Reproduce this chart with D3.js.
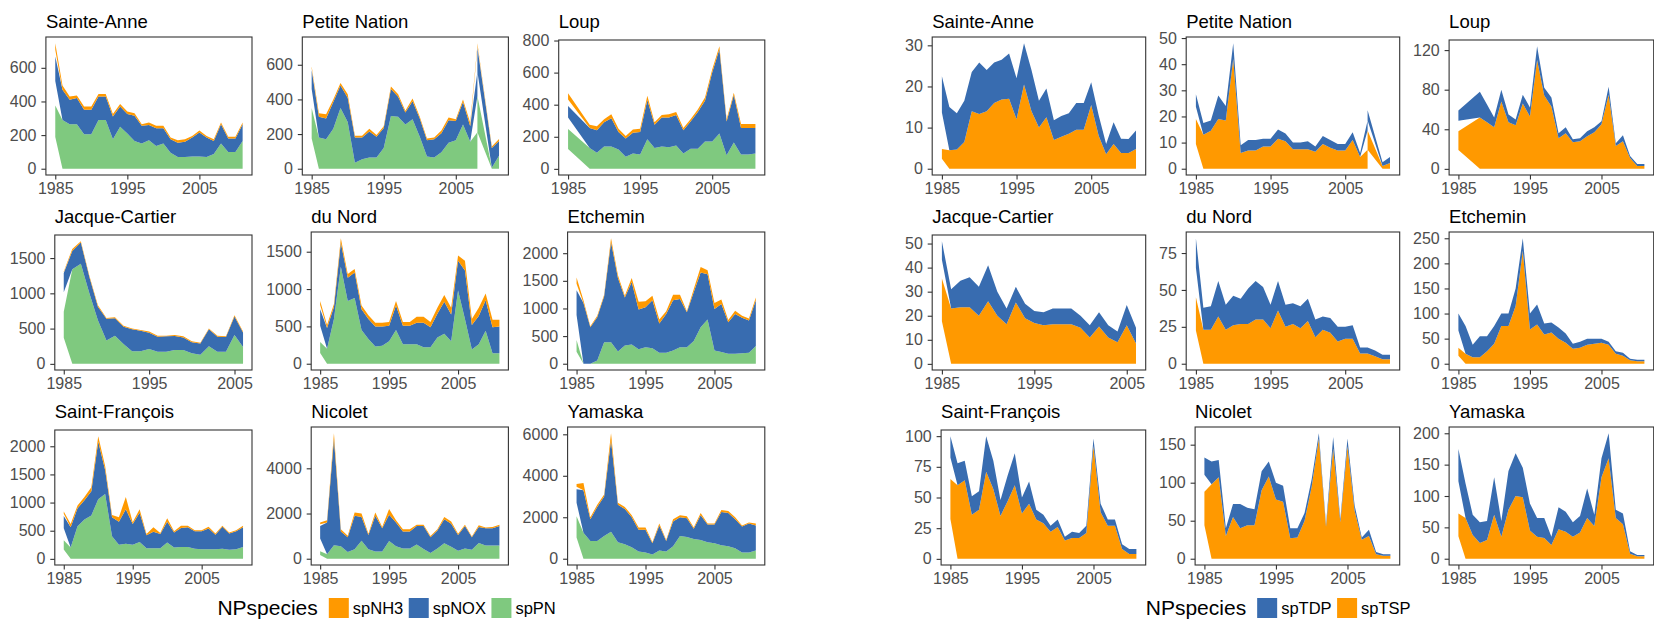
<!DOCTYPE html>
<html>
<head>
<meta charset="utf-8">
<script src="https://cdn.jsdelivr.net/npm/d3@7"></script>
<style>
  html, body { margin: 0; padding: 0; background: #fff; }
  svg { display: block; }
</style>
</head>
<body>
<svg id="chart" width="1654" height="621"></svg>
<script>
// ---------------------------------------------------------------
// Data: yearly loads per river; the first year (and 2008 for
// Petite Nation) appears twice in the source table.
// ---------------------------------------------------------------
const rivers = ["Sainte-Anne", "Petite Nation", "Loup", "Jacque-Cartier", "du Nord",
                "Etchemin", "Saint-François", "Nicolet", "Yamaska"];
const speciesN = ["spNH3", "spNOX", "spPN"];
const speciesP = ["spTDP", "spTSP"];
const xTicks = [1985, 1995, 2005];

const yearsFull = [1985, 1985, 1986, 1987, 1988, 1989, 1990, 1991, 1992, 1993, 1994, 1995, 1996, 1997,
                   1998, 1999, 2000, 2001, 2002, 2003, 2004, 2005, 2006, 2007, 2008, 2009, 2010, 2011];
const yearsPetiteNation = [1985, 1985, 1986, 1987, 1988, 1989, 1990, 1991, 1992, 1993, 1994, 1995, 1996,
                   1997, 1998, 1999, 2000, 2001, 2002, 2003, 2004, 2005, 2006, 2007, 2008, 2008, 2010, 2011];
const yearsLoup = [1985, 1985, 1988, 1989, 1990, 1991, 1992, 1993, 1994, 1995, 1996, 1997, 1998,
                   1999, 2000, 2001, 2002, 2003, 2004, 2005, 2006, 2007, 2008, 2009, 2010, 2011];
const yearsJacqueCartier = [1985, 1985, 1986, 1987, 1988, 1989, 1990, 1991, 1992, 1993, 1994, 1995,
                   1996, 1997, 1998, 1999, 2000, 2001, 2002, 2003, 2004, 2005, 2006];

// Nitrogen species
const pn_SainteAnne  = [188,188, 290,265,265,205,205,290,290,175,250,210,165,150,170,135,150,95,70,70,72,72,70,88,150,100,100,165];
const nox_SainteAnne = [146,146, 180,145,155,145,145,140,140,135,120,115,150,105,90,105,90,80,85,90,113,143,115,77,115,80,80,100];
const nh3_SainteAnne = [39,39, 25,20,15,20,20,15,15,15,15,15,15,10,15,15,15,10,15,15,10,13,10,10,10,10,10,10];

const pn_PetiteNation  = [175,175, 180,170,230,350,270,35,55,65,65,120,305,300,255,285,185,70,65,95,150,165,255,155, 210,210, 5,75];
const nox_PetiteNation = [110,110, 120,120,155,130,140,145,125,150,120,115,155,115,70,105,105,95,105,110,130,110,130,90, 140,140, 115,85];
const nh3_PetiteNation = [10,10, 20,25,15,15,20,10,10,15,10,10,15,15,10,15,10,10,10,15,15,10,15,20, 12,12, 8,12];

const pn_Loup  = [124,124, 130,100,140,140,120,75,95,90,185,130,140,135,145,95,125,125,170,170,220,85,165,90,90,95];
const nox_Loup = [72,72, 125,140,150,175,110,115,130,140,245,145,180,185,190,145,170,230,255,430,525,210,295,165,165,160];
const nh3_Loup = [40,40, 20,25,20,25,20,15,20,20,25,15,15,20,20,15,15,15,20,20,20,15,15,25,25,25];

const pn_JacqueCartier  = [370,370, 1340,1420,1000,620,330,400,280,180,180,210,170,170,195,195,150,130,250,170,170,410,240];
const nox_JacqueCartier = [275,275, 260,300,230,190,310,245,245,310,290,230,215,220,200,180,155,160,240,215,210,260,205];
const nh3_JacqueCartier = [10,10, 30,20,20,20,10,15,15,10,10,20,15,10,15,15,15,10,10,15,10,20,15];

const pn_duNord  = [145,145, 200,600,1300,840,880,450,330,230,240,300,450,260,260,260,220,220,350,400,300,980,600,190,260,440,140,140];
const nox_duNord = [220,220, 280,160,320,310,340,280,270,270,260,210,330,250,250,290,330,270,320,430,360,400,650,330,380,410,350,360];
const nh3_duNord = [55,55, 40,40,60,50,50,50,50,50,50,50,60,50,50,80,80,70,80,90,90,70,130,80,110,90,100,90];

const pn_Etchemin  = [215,215, 0,0,60,390,390,220,330,350,260,300,280,200,200,240,300,300,410,660,800,240,210,180,180,190,200,320];
const nox_Etchemin = [450,450, 1100,660,780,830,1810,1330,870,1130,720,720,870,530,700,910,870,630,890,990,820,750,870,570,720,640,580,830];
const nh3_Etchemin = [115,115, 50,20,30,30,70,50,30,70,140,110,80,70,50,100,80,20,50,100,70,110,80,40,60,40,40,50];

const pn_SaintFrancois  = [165,165, 200,580,700,770,1060,1150,400,250,270,250,300,190,190,190,290,200,210,210,180,170,170,170,180,160,170,210];
const nox_SaintFrancois = [215,215, 360,320,340,430,1020,430,340,410,610,370,520,230,290,250,370,270,340,350,310,320,370,260,390,290,320,350];
const nh3_SaintFrancois = [40,40, 60,50,60,70,100,70,40,80,220,30,60,20,80,20,60,20,40,30,20,20,30,20,20,20,20,30];

const pn_Nicolet  = [165,165, 200,600,550,300,420,800,420,320,320,780,550,450,450,630,430,250,450,680,530,350,450,400,700,580,580,580];
const nox_Nicolet = [560,560, 1400,4700,650,650,1480,1050,630,1580,1030,1170,1050,750,750,820,1020,700,800,1070,1020,700,1000,550,700,770,770,870];
const nh3_Nicolet = [75,75, 100,250,100,70,150,150,50,150,50,250,100,100,100,50,50,50,50,100,100,50,50,30,80,30,50,50];

const pn_Yamaska  = [1025,1025, 1250,850,850,1100,1300,800,700,550,350,300,200,400,350,600,1100,1050,950,900,800,750,650,600,500,300,300,400];
const nox_Yamaska = [650,650, 2050,1050,1650,1900,4400,1800,1700,1450,1050,1100,550,1200,500,1200,900,900,500,1200,850,900,1600,1600,1400,1250,1400,1200];
const nh3_Yamaska = [125,125, 350,100,100,100,350,100,100,100,100,100,50,100,50,100,100,100,50,100,50,50,100,100,100,50,50,100];

// Phosphorus species
const tsp_SainteAnne = [2.4,2.4, 4.5,4.7,6.5,14,13.3,14,16,16.8,17,12,20.5,14,10,12.5,7,7.8,8.5,9.5,9.5,15.5,8,3.5,6,3.8,3.8,4.8];
const tdp_SainteAnne = [8.85,8.85, 10.5,8.8,10,9.5,12.5,10,9.8,9.7,11,10,10,10,6.5,7,4.8,5,5,6.5,6.5,5.5,5,2.5,5.3,3.5,3.4,4.5];

const tsp_PetiteNation = [9.5,9.5, 13,14.5,19,18.5,42,6,7,7,8.5,8.5,11.5,10.5,7.5,7.5,7.5,6.5,9.5,8,7,7,11,4.5, 7.3,7.3, 1,2.2];
const tdp_PetiteNation = [4.75,4.75, 4.5,4,9,5.5,6,3,4,4,3,3,3.5,3,2.5,2.5,3,2,3,3,2.5,2.5,3,1.5, 3.9,3.9, 1.5,2.3];

const tsp_Loup = [19,19, 52,47,42,68,47,44,66,53,110,74,63,31,36,27,28,33,37,45,75,23,28,11,3,3];
const tdp_Loup = [10.5,10.5, 26,18,10,12,8,6,9,9,14,8,9,5,6,3,3,5,5,3,8,3,6,2,2,2];

const tsp_JacqueCartier = [17.75,17.75, 23,23.5,23.5,20,26,20,16.5,25.5,19,17,16,16.5,16.5,16.5,15,11,15.5,11,9,16,8.5];
const tdp_JacqueCartier = [7.75,7.75, 8,11,12.5,12,15,10,6.5,6.5,6,5,5.5,6.5,6.5,6.5,5,5,6,5,4.5,8.5,6.5];

const tsp_duNord = [22.5,22.5, 23,23,32,23,26,27,27,30,30,24,36,25,27,24,29,18,23,21,15,17,17,7,7,5,3,3];
const tdp_duNord = [20,20, 15,16,24,17,20,17,24,26,22,16,20,15,14,15,15,12,9,10,10,8,9,4,4,4,3,3];

const tsp_Etchemin = [16,16, 20,13,13,25,40,75,75,115,225,68,78,58,62,50,42,30,32,38,40,42,38,20,16,7,5,5];
const tdp_Etchemin = [34,34, 55,25,42,30,35,25,25,35,25,32,40,22,20,22,18,10,12,12,10,8,6,5,6,3,3,3];

const tsp_SaintFrancois = [32.5,32.5, 60,64,36,40,71,57,35,47,60,37,45,32,29,22,26,15,17,17,21,92,38,27,27,8,4,4];
const tdp_SaintFrancois = [17.5,17.5, 18,16,15,15,29,23,13,21,26,13,18,8,7,5,6,3,5,4,6,6,7,5,5,4,4,4];

const tsp_Nicolet = [44,44, 98,107,30,55,40,44,44,90,108,78,75,27,28,50,95,158,42,145,48,148,63,25,30,6,4,4];
const tdp_Nicolet = [22.5,22.5, 30,23,10,17,32,23,21,25,20,22,21,13,12,10,10,7,3,15,4,10,7,3,8,3,2,2];

const tsp_Yamaska = [36,36, 65,38,25,30,70,35,78,100,98,45,35,33,22,47,43,35,42,65,52,130,160,65,55,8,4,4];
const tdp_Yamaska = [51.5,51.5, 55,32,33,30,60,25,62,68,47,43,30,32,13,35,32,23,26,47,18,30,40,13,17,4,2,2];

// y-axis tick labels, one list per river
const yTicksN = [[0,200,400,600], [0,200,400,600], [0,200,400,600,800],
                 [0,500,1000,1500], [0,500,1000,1500], [0,500,1000,1500,2000],
                 [0,500,1000,1500,2000], [0,2000,4000], [0,2000,4000,6000]];
const yTicksP = [[0,10,20,30], [0,10,20,30,40,50], [0,40,80,120],
                 [0,10,20,30,40,50], [0,25,50,75], [0,50,100,150,200,250],
                 [0,25,50,75,100], [0,50,100,150], [0,50,100,150,200]];

const yearsByRiver = [yearsFull, yearsPetiteNation, yearsLoup, yearsJacqueCartier, yearsFull,
                      yearsFull, yearsFull, yearsFull, yearsFull];

const panelsN = [
  [nh3_SainteAnne, nox_SainteAnne, pn_SainteAnne],
  [nh3_PetiteNation, nox_PetiteNation, pn_PetiteNation],
  [nh3_Loup, nox_Loup, pn_Loup],
  [nh3_JacqueCartier, nox_JacqueCartier, pn_JacqueCartier],
  [nh3_duNord, nox_duNord, pn_duNord],
  [nh3_Etchemin, nox_Etchemin, pn_Etchemin],
  [nh3_SaintFrancois, nox_SaintFrancois, pn_SaintFrancois],
  [nh3_Nicolet, nox_Nicolet, pn_Nicolet],
  [nh3_Yamaska, nox_Yamaska, pn_Yamaska]
].map((s, i) => ({ name: rivers[i], years: yearsByRiver[i], ticks: yTicksN[i],
                   spNH3: s[0], spNOX: s[1], spPN: s[2] }));

const panelsP = [
  [tdp_SainteAnne, tsp_SainteAnne],
  [tdp_PetiteNation, tsp_PetiteNation],
  [tdp_Loup, tsp_Loup],
  [tdp_JacqueCartier, tsp_JacqueCartier],
  [tdp_duNord, tsp_duNord],
  [tdp_Etchemin, tsp_Etchemin],
  [tdp_SaintFrancois, tsp_SaintFrancois],
  [tdp_Nicolet, tsp_Nicolet],
  [tdp_Yamaska, tsp_Yamaska]
].map((s, i) => ({ name: rivers[i], years: yearsByRiver[i], ticks: yTicksP[i],
                   spTDP: s[0], spTSP: s[1] }));

// ---------------------------------------------------------------
// Styling and layout
// ---------------------------------------------------------------
const FONT = "'Liberation Sans', Arial, Helvetica, sans-serif";
const AXIS_FS = 16, TITLE_FS = 18.5, LEG_TITLE_FS = 21, LEG_FS = 16.5;
const INK = "#333333", AXIS_TEXT = "#4d4d4d";

const blocks = [
  { x0: 0, cellW: 256.4, rightOff: 252, panels: panelsN, legend: speciesN,
    stackOrder: ["spPN", "spNOX", "spNH3"],
    colors: { spNH3: "#FF9900", spNOX: "#386CB0", spPN: "#7FC97F" } },
  { x0: 895.2, cellW: 254, rightOff: 250.5, panels: panelsP, legend: speciesP,
    stackOrder: ["spTSP", "spTDP"],
    colors: { spTDP: "#386CB0", spTSP: "#FF9900" } }
];

const ROW_STEP = 195, TITLE_BASE = 27.5, PANEL_TOP = 37, PANEL_BOTTOM = 175;

const svg = d3.select("#chart").attr("font-family", FONT);

const probe = svg.append("text").attr("x", -1000).attr("y", -1000).attr("font-family", FONT);
function textWidth(str, size) {
  probe.attr("font-size", size).text(str);
  return probe.node().getComputedTextLength();
}

function drawPanel(block, p, idx) {
  const col = idx % 3, row = Math.floor(idx / 3);
  const cellX = block.x0 + col * block.cellW;
  const labelW = d3.max(p.ticks, t => textWidth(String(t), AXIS_FS));
  const left = cellX + 9.8 + labelW + 9.4;
  const right = cellX + block.rightOff;
  const descender = /[gjpqyç]/.test(p.name);
  const top = PANEL_TOP + row * ROW_STEP + (descender ? 3 : 0);
  const bottom = PANEL_BOTTOM + row * ROW_STEP;

  // stack rows sharing the same year, species by species
  const n = p.years.length;
  const keys = block.stackOrder;
  const lo = {}, hi = {};
  keys.forEach(k => { lo[k] = new Array(n); hi[k] = new Array(n); });
  d3.group(d3.range(n), i => p.years[i]).forEach(rows => {
    let acc = 0;
    keys.forEach(k => rows.forEach(i => {
      lo[k][i] = acc; acc += p[k][i]; hi[k][i] = acc;
    }));
  });
  const yMax = d3.max(keys, k => d3.max(hi[k]));

  const [x0, x1] = d3.extent(p.years);
  const xPad = (x1 - x0) * 0.05;
  const x = d3.scaleLinear().domain([x0 - xPad, x1 + xPad]).range([left, right]);
  const y = d3.scaleLinear().domain([-0.05 * yMax, 1.05 * yMax]).range([bottom, top]);

  const g = svg.append("g").attr("class", "panel");

  g.append("rect").attr("x", left).attr("y", top)
    .attr("width", right - left).attr("height", bottom - top).attr("fill", "#fff");

  keys.forEach(k => {
    const area = d3.area()
      .x(i => x(p.years[i]))
      .y0(i => y(lo[k][i]))
      .y1(i => y(hi[k][i]));
    g.append("path").attr("d", area(d3.range(n))).attr("fill", block.colors[k]);
  });

  const gy = g.append("g").attr("transform", `translate(${left},0)`)
    .call(d3.axisLeft(y).tickValues(p.ticks).tickFormat(d3.format("d")).tickSize(4.5).tickPadding(4.9));
  const gx = g.append("g").attr("transform", `translate(0,${bottom})`)
    .call(d3.axisBottom(x).tickValues(xTicks).tickFormat(d3.format("d")).tickSize(4.5).tickPadding(3.5));
  [gy, gx].forEach(ax => {
    ax.select(".domain").remove();
    ax.attr("font-size", null).attr("font-family", null);
    ax.selectAll("line").attr("stroke", INK).attr("stroke-width", 1.1);
    ax.selectAll("text").attr("fill", AXIS_TEXT).attr("font-size", AXIS_FS);
  });

  g.append("rect").attr("x", left).attr("y", top)
    .attr("width", right - left).attr("height", bottom - top)
    .attr("fill", "none").attr("stroke", INK).attr("stroke-width", 1.1);

  g.append("text").attr("x", left).attr("y", TITLE_BASE + row * ROW_STEP)
    .attr("font-size", TITLE_FS).attr("fill", "#000").text(p.name);
}

function drawLegend(block) {
  const keySize = 20, keyGap = 4, itemGap = 5.5, titleGap = 11;
  const titleW = textWidth("NPspecies", LEG_TITLE_FS);
  const labW = block.legend.map(s => textWidth(s, LEG_FS));
  const total = titleW + titleGap + d3.sum(labW, w => keySize + keyGap + w) + itemGap * (labW.length - 1);
  const center = block.x0 + 1.5 * block.cellW + 2;
  let cx = center - total / 2;
  const keyTop = 598;
  const g = svg.append("g").attr("class", "legend");
  g.append("text").attr("x", cx).attr("y", 615).attr("font-size", LEG_TITLE_FS)
    .attr("fill", "#000").text("NPspecies");
  cx += titleW + titleGap;
  block.legend.forEach((s, i) => {
    g.append("rect").attr("x", cx).attr("y", keyTop).attr("width", keySize).attr("height", keySize)
      .attr("fill", block.colors[s]);
    cx += keySize + keyGap;
    g.append("text").attr("x", cx).attr("y", 613.5).attr("font-size", LEG_FS)
      .attr("fill", "#000").text(s);
    cx += labW[i] + itemGap;
  });
}

blocks.forEach(b => {
  b.panels.forEach((p, i) => drawPanel(b, p, i));
  drawLegend(b);
});
probe.remove();
</script>
</body>
</html>
